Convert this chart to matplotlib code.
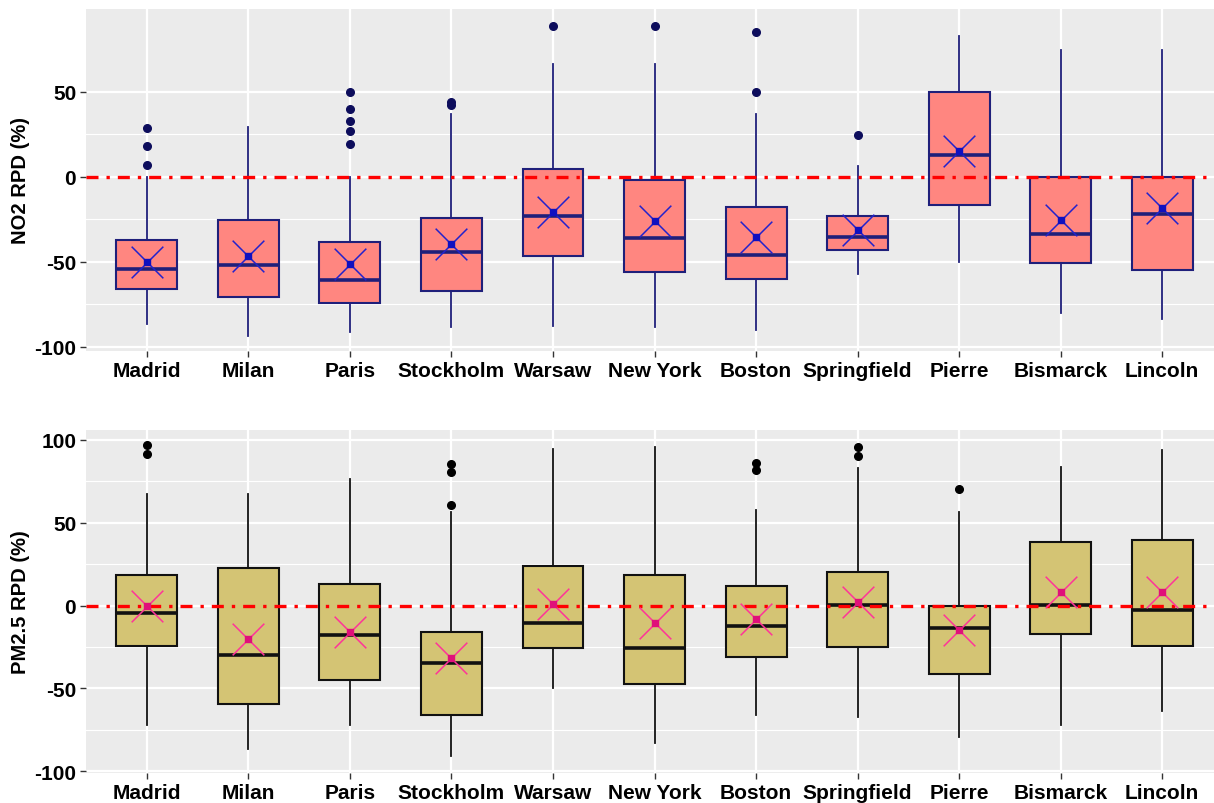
import numpy as np
import matplotlib
matplotlib.use("Agg")
from matplotlib import pyplot as plt

plt.rcParams['font.family'] = ['Liberation Sans', 'DejaVu Sans']

cities = ["Madrid", "Milan", "Paris", "Stockholm", "Warsaw", "New York",
          "Boston", "Springfield", "Pierre", "Bismarck", "Lincoln"]

# NO2 RPD (%) box stats
no2_q1 = [-66, -71, -74.3, -67, -46.5, -56.2, -60.2, -42.9, -16.8, -50.6, -54.7]
no2_med = [-54, -51.8, -60.8, -44.5, -23.1, -36.1, -46, -35.3, 12.8, -33.7, -21.9]
no2_q3 = [-37, -25.6, -38.4, -24.1, 4.5, -1.9, -17.6, -23.3, 49.8, -0.4, 0]
no2_lo = [-86.6, -93.5, -91.5, -88.6, -87.6, -88.6, -90.2, -57.2, -50, -80.4, -83.7]
no2_hi = [0, 29, 0, 36.9, 66.3, 66.3, 36.9, 6.5, 83, 74.7, 74.7]
no2_mean = [-50.4, -46.5, -51.4, -39.8, -21, -25.9, -35.7, -31.4, 15.3, -25.5, -18.4]
no2_out = [[28.6, 17.9, 7.1], [], [50, 40, 32.6, 26.9, 19.4], [43.8, 42], [88.5],
           [88.5], [85.3, 50], [24.5], [], [], []]

# PM2.5 RPD (%)
pm_q1 = [-24.7, -59.1, -44.8, -66, -25.5, -47.4, -31.3, -25.3, -41.4, -17, -24.7]
pm_med = [-4.7, -29.9, -18, -34.9, -10.6, -25.5, -12.2, 0.5, -13.8, 0.5, -2.9]
pm_q3 = [18.6, 22.7, 12.8, -16.2, 23.7, 18.6, 11.6, 20.2, 0, 38, 39.6]
pm_lo = [-72.2, -86.7, -72.2, -90.7, -50, -83.1, -66, -67.2, -79, -72.2, -63.9]
pm_hi = [67, 67, 76.4, 56.3, 94.6, 95.6, 57.7, 83.1, 56.3, 83.5, 94]
pm_mean = [0, -20.2, -16, -31.7, 0.9, -10.8, -8.2, 1.9, -14.8, 8, 8]
pm_out = [[96.6, 91.1], [], [], [85.5, 80.5, 60.9], [], [], [85.9, 81.5],
          [95.6, 90.1], [70.2], [], []]


def panel(ax, q1, med, q3, lo, hi, mean, out, fill, edge, flier_c, mean_c, sq_c,
          ylabel, yticks, ylim):
    stats = []
    for i in range(len(cities)):
        stats.append(dict(q1=q1[i], med=med[i], q3=q3[i], whislo=lo[i],
                          whishi=hi[i], fliers=out[i], mean=mean[i]))
    pos = np.arange(1, len(cities) + 1)
    ax.bxp(stats, positions=pos, widths=0.6, patch_artist=True, showcaps=False,
           boxprops=dict(facecolor=fill, edgecolor=edge, linewidth=1.5),
           medianprops=dict(color=edge, linewidth=2.6),
           whiskerprops=dict(color=edge, linewidth=1.3),
           flierprops=dict(marker='o', markerfacecolor=flier_c, markeredgecolor=flier_c,
                           markersize=5.5))
    ax.axhline(0, color='red', linewidth=2.4, linestyle=(0, (3.6, 2.4, 1, 2.4)), zorder=4)
    ax.scatter(pos, mean, marker='x', s=520, color=mean_c, linewidths=1.1, zorder=5)
    ax.scatter(pos, mean, marker='s', s=18, color=sq_c, zorder=6)

    ax.set_facecolor('#EBEBEB')
    ax.set_xlim(0.4, 11.51)
    ax.set_ylim(*ylim)
    ax.set_yticks(yticks)
    ax.set_yticks([v + 25 for v in yticks[:-1]], minor=True)
    ax.grid(True, which='major', color='white', linewidth=1.6)
    ax.grid(True, which='minor', axis='y', color='white', linewidth=0.8)
    ax.set_axisbelow(True)
    for s in ax.spines.values():
        s.set_visible(False)
    ax.set_xticks(pos)
    ax.set_xticklabels(cities, fontsize=15, fontweight='bold', color='black')
    ax.set_yticklabels([str(v) for v in yticks], fontsize=15, fontweight='bold', color='black')
    ax.tick_params(axis='both', which='major', length=4, width=1, color='#333333', pad=3)
    ax.tick_params(axis='y', which='minor', length=0)
    ax.set_ylabel(ylabel, fontsize=14.5, fontweight='bold', labelpad=3)


fig = plt.figure(figsize=(12.14, 8.04), dpi=100)
ax1 = fig.add_axes([0.0708, 0.5622, 0.9292, 0.4254])
ax2 = fig.add_axes([0.0708, 0.0373, 0.9292, 0.427])

panel(ax1, no2_q1, no2_med, no2_q3, no2_lo, no2_hi, no2_mean, no2_out,
      '#FF8680', '#1F1F7A', '#0D0D5C', '#2222CC', '#1010C0',
      'NO2 RPD (%)', [-100, -50, 0, 50], (-102.5, 98.6))
panel(ax2, pm_q1, pm_med, pm_q3, pm_lo, pm_hi, pm_mean, pm_out,
      '#D4C474', '#111111', '#000000', '#FF3399', '#E0107A',
      'PM2.5 RPD (%)', [-100, -50, 0, 50, 100], (-101, 106))

fig.savefig('out.png', dpi=100)
